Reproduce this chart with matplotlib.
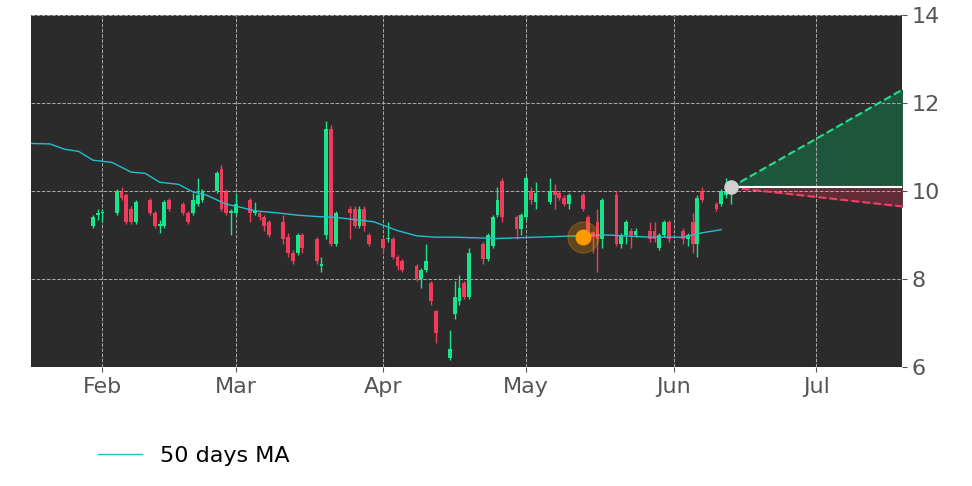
import matplotlib.pyplot as plt
import matplotlib.dates as mdates
import pandas as pd
import numpy as np

# open, close, high, low
ohlc = [
    (9.2, 9.4, 9.45, 9.15), (9.45, 9.5, 9.6, 9.35), (9.5, 9.5, 9.6, 9.3), (9.5, 10.0, 10.05, 9.45),
    (10.0, 9.85, 10.1, 9.8), (9.9, 9.3, 9.95, 9.25), (9.6, 9.3, 9.65, 9.25), (9.3, 9.75, 9.8, 9.25),
    (9.8, 9.5, 9.85, 9.45), (9.5, 9.2, 9.55, 9.15), (9.2, 9.25, 9.35, 9.05), (9.2, 9.75, 9.8, 9.15),
    (9.8, 9.6, 9.85, 9.55), (9.7, 9.5, 9.75, 9.45), (9.5, 9.3, 9.55, 9.25), (9.5, 9.8, 9.95, 9.45),
    (9.7, 9.9, 10.3, 9.65), (9.8, 10.0, 10.05, 9.75), (10.0, 10.4, 10.45, 9.95), (10.5, 9.6, 10.6, 9.55),
    (10.0, 9.5, 10.05, 9.45), (9.5, 9.55, 9.6, 9.0), (9.5, 9.7, 9.95, 9.45), (9.8, 9.5, 9.85, 9.3),
    (9.5, 9.55, 9.75, 9.45), (9.5, 9.4, 9.55, 9.35), (9.4, 9.2, 9.45, 9.1), (9.3, 9.0, 9.35, 8.95),
    (9.3, 8.9, 9.45, 8.8), (8.95, 8.6, 9.05, 8.5), (8.6, 8.4, 8.65, 8.35), (8.6, 9.0, 9.05, 8.55),
    (9.0, 8.7, 9.05, 8.6), (8.9, 8.4, 8.95, 8.35), (8.3, 8.32, 8.5, 8.15), (9.0, 11.4, 11.6, 8.9),
    (11.4, 8.8, 11.5, 8.75), (8.8, 9.5, 9.55, 8.75), (9.6, 9.5, 9.65, 8.9), (9.6, 9.2, 9.65, 9.15),
    (9.2, 9.6, 9.65, 9.15), (9.6, 9.2, 9.65, 9.1), (9.0, 8.8, 9.05, 8.75), (8.9, 8.7, 8.95, 8.6),
    (8.9, 8.92, 9.3, 8.85), (8.9, 8.5, 8.95, 8.45), (8.5, 8.3, 8.55, 8.2), (8.4, 8.2, 8.45, 8.15),
    (8.3, 8.0, 8.35, 7.95), (8.0, 8.2, 8.25, 7.8), (8.2, 8.4, 8.8, 8.15), (7.9, 7.5, 7.95, 7.4),
    (7.27, 6.78, 7.3, 6.55), (6.2, 6.4, 6.85, 6.15), (7.2, 7.6, 7.95, 7.1), (7.5, 7.8, 8.1, 7.4),
    (7.9, 7.6, 7.95, 7.55), (7.6, 8.6, 8.7, 7.55), (8.8, 8.45, 8.85, 8.35), (8.45, 9.0, 9.05, 8.4),
    (8.76, 9.41, 9.45, 8.7), (9.45, 9.8, 10.1, 9.4), (10.22, 9.41, 10.3, 9.3), (9.41, 9.14, 9.45, 8.9),
    (9.14, 9.45, 9.5, 9.0), (9.41, 10.29, 10.35, 9.35), (10.0, 9.8, 10.1, 9.7), (9.75, 9.95, 10.2, 9.6),
    (9.75, 10.0, 10.3, 9.7), (10.0, 9.9, 10.15, 9.6), (9.95, 9.85, 10.0, 9.8), (9.85, 9.7, 9.9, 9.65),
    (9.7, 9.9, 9.95, 9.6), (9.9, 9.6, 9.95, 9.55), (9.4, 8.9, 9.45, 8.85), (9.06, 8.95, 9.1, 8.6),
    (9.3, 8.9, 9.6, 8.15), (8.9, 9.8, 9.85, 8.7), (9.9, 8.8, 10.0, 8.75), (8.8, 9.0, 9.05, 8.7),
    (9.0, 9.3, 9.35, 8.8), (9.1, 9.0, 9.15, 8.7), (9.0, 9.1, 9.15, 8.95), (9.1, 8.9, 9.3, 8.85),
    (9.1, 8.9, 9.3, 8.85), (8.7, 9.0, 9.05, 8.65), (9.0, 9.3, 9.35, 8.95), (9.3, 8.9, 9.35, 8.85),
    (9.1, 8.9, 9.15, 8.8), (8.9, 9.0, 9.05, 8.75), (9.3, 8.8, 9.5, 8.6), (8.8, 9.85, 9.9, 8.5),
    (10.0, 9.8, 10.1, 9.75), (9.7, 9.6, 9.75, 9.55), (9.7, 10.0, 10.05, 9.65), (9.9, 10.0, 10.3, 9.85),
    (10.0, 10.08, 10.12, 9.7),
]
ma_dates = ["2019-01-17", "2019-01-21", "2019-01-24", "2019-01-27", "2019-01-30", "2019-02-03",
            "2019-02-07", "2019-02-10", "2019-02-13", "2019-02-17", "2019-02-20", "2019-02-23",
            "2019-02-27", "2019-03-02", "2019-03-05", "2019-03-10", "2019-03-14", "2019-03-18",
            "2019-03-22", "2019-03-26", "2019-03-30", "2019-04-04", "2019-04-08", "2019-04-12",
            "2019-04-16", "2019-04-25", "2019-05-03", "2019-05-12", "2019-05-18", "2019-05-27",
            "2019-06-03", "2019-06-07", "2019-06-11"]
ma_vals = [11.08, 11.07, 10.95, 10.9, 10.7, 10.65, 10.43, 10.4, 10.2, 10.15, 9.98, 9.9,
           9.7, 9.63, 9.55, 9.5, 9.45, 9.42, 9.4, 9.35, 9.3, 9.1, 8.98, 8.95,
           8.95, 8.92, 8.95, 8.98, 9.0, 8.95, 8.95, 9.05, 9.12]
last_date, last_price = "2019-06-13", 10.08
end_date, upper_end, lower_end = "2019-07-19", 12.3, 9.65
signal_date, signal_price = "2019-05-13", 8.95

dates = pd.bdate_range(end=last_date, periods=len(ohlc))
o, c, h, l = (np.array(v) for v in zip(*ohlc))

fig = plt.figure(figsize=(9.72, 4.86), dpi=100)
ax = fig.add_axes([0.032, 0.245, 0.896, 0.724])
ax.set_facecolor("#2b2b2b")

x = mdates.date2num(dates)
up = c >= o
col = np.where(up, "#19e68c", "#f03c5a")
ax.vlines(x, l, h, colors=col, linewidth=1)
ax.bar(x, np.maximum(np.abs(c - o), 0.03), bottom=np.minimum(o, c), width=0.8, color=col)

ax.plot(pd.to_datetime(ma_dates), ma_vals, color="#20c0d0", linewidth=1, label="50 days MA")

t = pd.to_datetime([last_date, end_date])
ax.fill_between(t, [last_price, last_price], [last_price, upper_end], color="#1d5a40", alpha=0.9)
ax.fill_between(t, [last_price, last_price], [last_price, lower_end], color="#6a2c38", alpha=0.9)
ax.plot(t, [last_price, upper_end], "--", color="#20e090", linewidth=1.5)
ax.plot(t, [last_price, lower_end], "--", color="#f04060", linewidth=1.5)
ax.plot(t, [last_price, last_price], color="white", linewidth=1.5)
ax.scatter([pd.to_datetime(last_date)], [last_price], s=90, color="#d0d0d0", zorder=5)
ax.scatter([pd.to_datetime(signal_date)], [signal_price], s=500, color="#ff9900", alpha=0.25, zorder=5)
ax.scatter([pd.to_datetime(signal_date)], [signal_price], s=110, color="#ff9900", zorder=6)

ax.set_xlim(pd.to_datetime("2019-01-17"), pd.to_datetime(end_date))
ax.set_ylim(6, 14)
ax.set_yticks([6, 8, 10, 12, 14])
ax.xaxis.set_major_locator(mdates.MonthLocator())
ax.xaxis.set_major_formatter(mdates.DateFormatter("%b"))
ax.yaxis.tick_right()
ax.tick_params(labelsize=16, colors="#555555")
ax.grid(True, color="#aaaaaa", linestyle="--", linewidth=0.7)
for s in ax.spines.values():
    s.set_visible(False)

fig.legend(loc="lower left", bbox_to_anchor=(0.08, 0.0), frameon=False, fontsize=16)
fig.savefig("out.png")
